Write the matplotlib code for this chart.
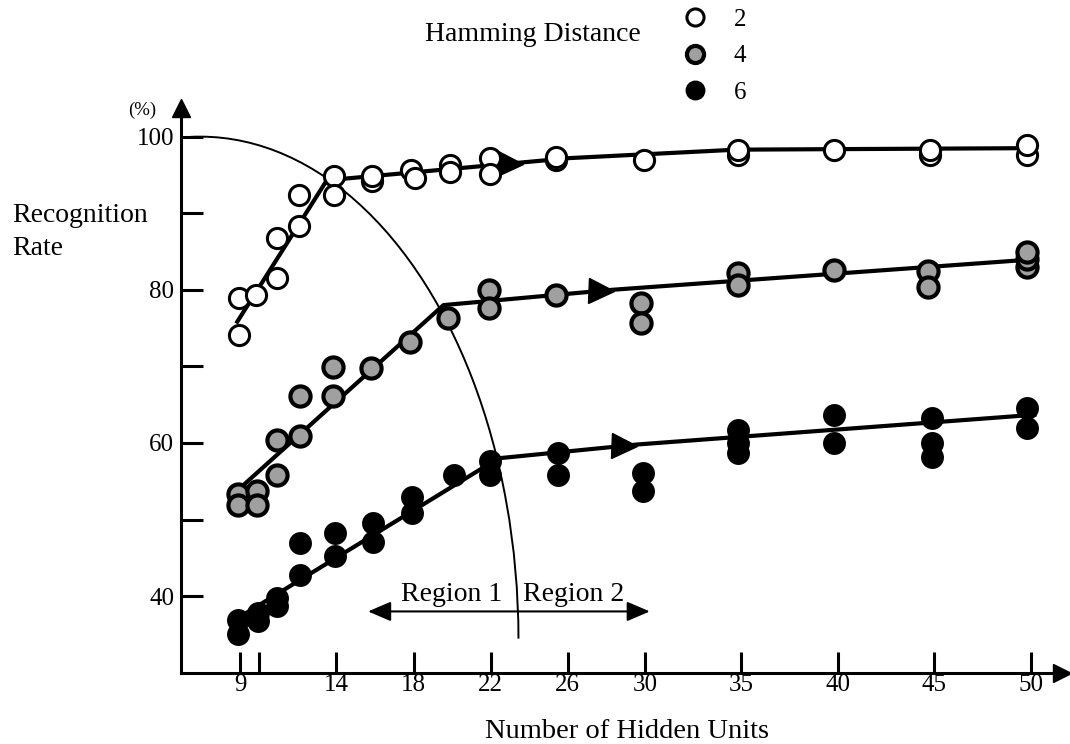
import numpy as np
import matplotlib.pyplot as plt
from matplotlib.patches import Arc

plt.rcParams['font.family'] = ['Liberation Serif', 'DejaVu Serif']

# recognition rate (%) vs number of hidden units
# hamming distance 2 (open circles)
hd2_x = [8.95, 8.95, 9.85, 10.9, 10.9, 12.05, 12.05, 13.85, 13.85, 15.85, 15.85,
         17.85, 18.1, 19.9, 19.9, 21.95, 21.95, 25.4, 25.4, 29.95, 34.8, 34.8,
         39.8, 44.8, 44.8, 49.8, 49.8]
hd2_y = [78.9, 74.1, 79.3, 81.5, 86.7, 88.3, 92.4, 94.8, 92.4, 94.2, 94.8,
         95.7, 94.6, 96.3, 95.4, 97.2, 95.1, 97.0, 97.4, 97.0, 97.6, 98.3,
         98.3, 97.6, 98.3, 97.6, 98.9]
# hamming distance 4 (shaded circles)
hd4_x = [8.9, 8.9, 9.9, 9.9, 10.9, 10.9, 12.1, 12.1, 13.8, 13.8, 15.8, 17.8,
         19.8, 21.9, 21.9, 25.4, 29.8, 29.8, 34.8, 34.8, 39.8, 44.7, 44.7,
         49.8, 49.8, 49.8]
hd4_y = [53.4, 51.9, 53.7, 51.9, 55.8, 60.4, 60.9, 66.1, 66.1, 69.9, 69.8, 73.2,
         76.3, 80.0, 77.6, 79.3, 78.3, 75.6, 82.2, 80.6, 82.6, 82.4, 80.4,
         83.0, 84.0, 85.0]
# hamming distance 6 (black circles)
hd6_x = [8.9, 8.9, 9.95, 9.95, 10.9, 10.9, 12.1, 12.1, 13.9, 13.9, 15.9, 15.9,
         17.9, 17.9, 20.1, 21.95, 21.95, 25.5, 25.5, 29.9, 29.9, 34.8, 34.8, 34.8,
         39.8, 39.8, 44.9, 44.9, 44.9, 49.8, 49.8]
hd6_y = [36.9, 35.0, 37.8, 36.7, 39.8, 38.7, 42.8, 46.9, 45.2, 48.2, 47.1, 49.5,
         53.0, 50.8, 55.8, 57.6, 55.8, 58.7, 55.8, 56.1, 53.7, 61.7, 60.0, 58.7,
         63.6, 60.0, 63.2, 60.0, 58.2, 64.5, 61.9]

# hand-drawn trend lines
hd2_fit_x = [8.8, 13.5, 26.1, 34.75, 50.3]
hd2_fit_y = [75.6, 94.3, 97.2, 98.3, 98.5]
hd4_fit_x = [9.0, 19.55, 28.3, 50.3]
hd4_fit_y = [54.1, 78.0, 80.0, 84.0]
hd6_fit_x = [9.0, 22.4, 29.6, 50.3]
hd6_fit_y = [37.3, 58.0, 59.8, 63.7]
arrow_x = [23.0, 27.7, 28.9]

xticks = [9, 10, 14, 18, 22, 26, 30, 35, 40, 45, 50]
xticklabels = ['9', '', '14', '18', '22', '26', '30', '35', '40', '45', '50']
yticks = [40, 50, 60, 70, 80, 90, 100]
yticklabels = ['40', '', '60', '', '80', '', '100']
distances = ['2', '4', '6']

W, H = 1070, 744
fig = plt.figure(figsize=(W / 100, H / 100), dpi=100)
ax = fig.add_axes([181 / W, (H - 672.7) / H, (1061.7 - 181) / W, (672.7 - 108.3) / H])
ax.set_xlim(5.94, 51.61)
ax.set_ylim(30, 103.7)

for s in ['top', 'right']:
    ax.spines[s].set_visible(False)
for s in ['left', 'bottom']:
    ax.spines[s].set_linewidth(2.2)
# axis arrow heads
ax.plot(1, 0, marker='>', ms=12.5, color='k', transform=ax.transAxes, clip_on=False)
ax.plot(0, 1, marker='^', ms=12.5, color='k', transform=ax.transAxes, clip_on=False)

ax.set_xticks(xticks)
ax.set_xticklabels(xticklabels)
ax.set_yticks(yticks)
ax.set_yticklabels(yticklabels)
ax.tick_params(axis='x', direction='in', length=15, width=2.2, labelsize=18, pad=1)
ax.tick_params(axis='y', direction='in', length=16, width=2.2, labelsize=18, pad=5)

# region boundary (quarter ellipse)
ax.add_patch(Arc((6.93, 34.3), 2 * 16.51, 2 * 65.7, theta1=0.5, theta2=100,
                 color='k', lw=1.4, zorder=1))

fits = [(hd2_fit_x, hd2_fit_y), (hd4_fit_x, hd4_fit_y), (hd6_fit_x, hd6_fit_y)]
for (fx, fy), axx in zip(fits, arrow_x):
    ax.plot(fx, fy, color='k', lw=3, solid_capstyle='butt', zorder=2)
    ax.plot(axx, np.interp(axx, fx, fy), marker='>', ms=18, color='k', zorder=2.5)

h2, = ax.plot(hd2_x, hd2_y, 'o', ms=14.5, mfc='white', mec='k', mew=2.2, zorder=3)
h4, = ax.plot(hd4_x, hd4_y, 'o', ms=14.5, mfc='#a0a0a0', mec='k', mew=3, zorder=3)
h6, = ax.plot(hd6_x, hd6_y, 'o', ms=14.5, mfc='k', mec='k', mew=2, zorder=3)

# region arrow
ax.annotate('', xy=(15.64, 38.0), xytext=(30.25, 38.0),
            arrowprops=dict(arrowstyle='<|-|>,head_length=0.7,head_width=0.3',
                            color='k', lw=1.5, mutation_scale=20, shrinkA=0, shrinkB=0))
ax.text(22.59, 39.3, 'Region 1', ha='right', va='baseline', fontsize=20)
ax.text(23.67, 39.3, 'Region 2', ha='left', va='baseline', fontsize=20)

# legend
ax.legend([h2, h4, h6], distances, loc='upper left',
          bbox_to_anchor=(682.5 / W, 1 - 8.5 / H), bbox_transform=fig.transFigure,
          frameon=False, fontsize=18, markerscale=0.85, handlelength=1.0,
          handletextpad=1.06, labelspacing=0.56, borderpad=0, borderaxespad=0)
fig.text(425 / W, 1 - 41 / H, 'Hamming Distance', ha='left', va='baseline', fontsize=20)

# axis titles
fig.text(12 / W, 1 - 222 / H, 'Recognition', ha='left', va='baseline', fontsize=20)
fig.text(12 / W, 1 - 255 / H, 'Rate', ha='left', va='baseline', fontsize=20)
fig.text(142.5 / W, 1 - 110 / H, '(%)', ha='center', va='center', fontsize=13.5)
fig.text(627 / W, 1 - 738 / H, 'Number of Hidden Units', ha='center', va='baseline', fontsize=20.5)

fig.savefig('out.png', dpi=100)
